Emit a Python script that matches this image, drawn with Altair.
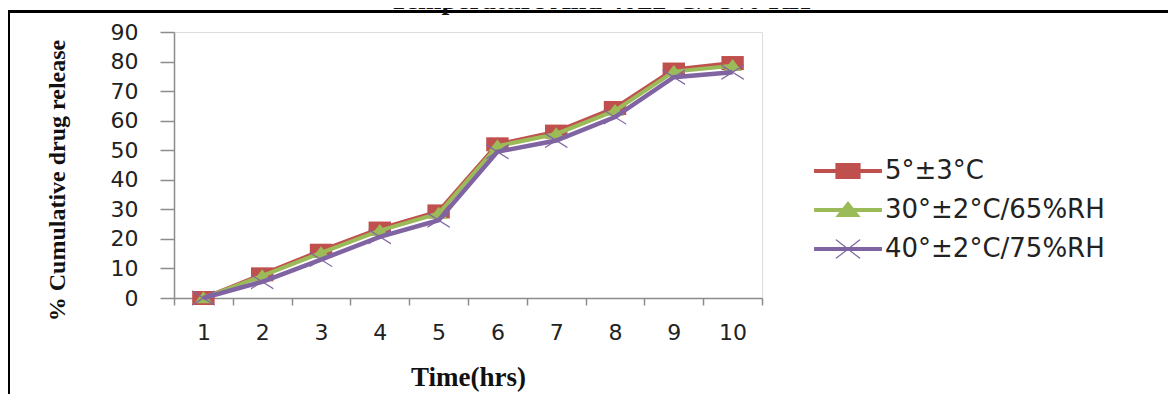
import altair as alt
import pandas as pd

time_hrs = [1, 2, 3, 4, 5, 6, 7, 8, 9, 10]
series_names = ["5°±3°C", "30°±2°C/65%RH", "40°±2°C/75%RH"]
rel_5c = [0, 8.0, 16.0, 23.5, 29.3, 52.0, 56.3, 64.3, 77.3, 79.5]
rel_30c = [0, 7.5, 15.3, 22.8, 28.6, 51.4, 55.5, 63.4, 76.6, 78.6]
rel_40c = [0, 5.5, 13.0, 20.7, 26.3, 49.5, 53.3, 61.2, 74.7, 76.4]
colors = ["#C0504D", "#9BBB59", "#8064A2"]
title_text = "Temperature And 40±2°C/75% RH"

rows = []
for name, vals in zip(series_names, [rel_5c, rel_30c, rel_40c]):
    for t, v in zip(time_hrs, vals):
        rows.append({"time": t, "release": v, "series": name})
df = pd.DataFrame(rows)

sq_path = "M-1.6,-1H1.6V1H-1.6Z"
tri_path = "M0,-0.95L1.3,0.75L-1.3,0.75Z"
x_path = "M-1.6,-1.1L1.6,0.9L1.6,1.1L-1.6,-0.9Z M1.6,-1.1L1.6,-0.9L-1.6,1.1L-1.6,0.9Z"
line_part = "M-4.85,-0.28H4.85V0.28H-4.85Z "
legend_paths = [
    line_part + "M-1.8,-1.15H1.8V1.15H-1.8Z",
    line_part + "M0,-1.3L1.8,1L-1.8,1Z",
    line_part + "M-1.8,-1.3L-1.65,-1.4L1.8,1.3L1.65,1.4Z M1.65,-1.4L1.8,-1.3L-1.65,1.4L-1.8,1.3Z",
]

W, H = 588, 266
LEFT, TOP = 166, 24
OX, OY = 8 + LEFT, 8 + TOP
TOTAL_W, TOTAL_H = 1160, 386

x_enc = alt.X(
    "time:O",
    bandPosition=0.5,
    scale=alt.Scale(type="band", paddingInner=0, paddingOuter=0),
    axis=alt.Axis(
        labelAngle=0, tickBand="extent", tickSize=7, labelPadding=17,
        labelFont="DejaVu Sans", labelFontSize=22, labelColor="#222222",
        domainColor="#8c8c8c", tickColor="#8c8c8c", domainWidth=1.5, tickWidth=1.5,
        titleFont="Liberation Serif", titleFontSize=27, titleFontWeight="bold",
        titleColor="#111111", titleX=468 - OX, titleY=377 - (OY + H), titleBaseline="middle",
        titleAnchor="middle", grid=False,
    ),
    title="Time(hrs)",
)
y_enc = alt.Y(
    "release:Q",
    scale=alt.Scale(domain=[0, 90], nice=False, zero=True),
    axis=alt.Axis(
        values=list(range(0, 91, 10)), tickSize=14, labelPadding=22,
        labelFont="DejaVu Sans", labelFontSize=22, labelColor="#222222",
        domainColor="#8c8c8c", tickColor="#8c8c8c", domainWidth=1.5, tickWidth=1.5,
        titleFont="Liberation Serif", titleFontSize=24, titleFontWeight="bold",
        titleColor="#111111", titleX=57 - OX, titleY=180 - OY, titleBaseline="middle",
        titleAnchor="middle", grid=False,
    ),
    title="% Cumulative drug release",
)

base = alt.Chart(df)
layers = []
widths = [4, 4, 4.5]
for name, col, path, lw in zip(series_names, colors, [sq_path, tri_path, x_path], widths):
    sub = base.transform_filter(alt.datum.series == name)
    layers.append(sub.mark_line(color=col, strokeWidth=lw).encode(x=x_enc, y=y_enc))
    layers.append(
        sub.mark_point(shape=path, size=196, filled=True, color=col, opacity=1, strokeWidth=0)
        .encode(x=x_enc, y=y_enc)
    )

leg = alt.Legend(
    title=None, orient="none", legendX=846 - OX - 11, legendY=126, padding=0,
    labelFont="DejaVu Sans", labelFontSize=26, labelColor="#222222",
    labelOffset=24, rowPadding=13, symbolStrokeWidth=0, symbolOpacity=1,
    symbolSize=196, labelLimit=400,
)
legend_layer = base.mark_point(filled=True, clip=True, opacity=1, strokeWidth=0, size=196).encode(
    x=alt.value(-600), y=alt.value(-600),
    color=alt.Color("series:N", scale=alt.Scale(domain=series_names, range=colors), legend=leg),
    shape=alt.Shape("series:N", scale=alt.Scale(domain=series_names, range=legend_paths), legend=leg),
)
layers.append(legend_layer)

frame_df = pd.DataFrame({"label": [title_text]})
frame_top = alt.Chart(frame_df).mark_rule(color="#000000", strokeWidth=3).encode(
    x=alt.value(6 - OX), x2=alt.value(8 + TOTAL_W - OX), y=alt.value(11.5 - OY),
)
frame_left = alt.Chart(frame_df).mark_rule(color="#000000", strokeWidth=4).encode(
    x=alt.value(8 - OX), y=alt.value(10 - OY), y2=alt.value(8 + TOTAL_H - OY),
)
title_mark = alt.Chart(frame_df).mark_text(
    font="Liberation Serif", fontSize=28, fontWeight="bold", color="#111111",
    baseline="alphabetic", align="center",
).encode(x=alt.value(600 - OX), y=alt.value(9 - OY), text="label:N")
layers += [frame_top, frame_left, title_mark]

chart = alt.layer(*layers).properties(
    width=W, height=H,
    autosize=alt.AutoSizeParams(type="none"),
    padding={"left": LEFT, "top": TOP, "right": TOTAL_W - LEFT - W, "bottom": TOTAL_H - TOP - H},
).configure_view(stroke=None).configure(background="white")

chart.save("out.html", embed_options={"renderer": "svg", "actions": False})
